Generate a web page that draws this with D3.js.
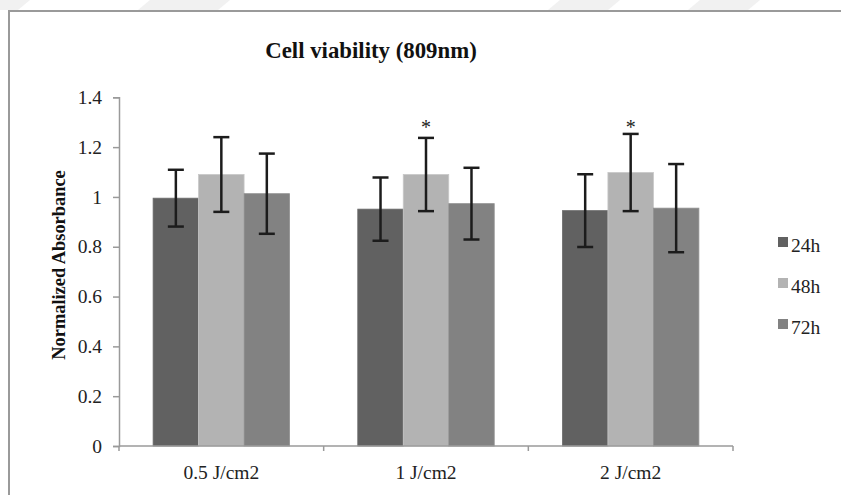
<!DOCTYPE html>
<html>
<head>
<meta charset="utf-8">
<script src="https://cdn.jsdelivr.net/npm/d3@7.9.0/dist/d3.min.js"></script>
<style>
  body { margin: 0; background: #fff; }
  svg { display: block; font-family: "Liberation Serif", "Times New Roman", serif; }
</style>
</head>
<body>
<svg id="chart" width="841" height="495"></svg>
<script>
const categories = ['0.5 J/cm2', '1 J/cm2', '2 J/cm2'];
const series = ['24h', '48h', '72h'];
const colors = ['#616161', '#b3b3b3', '#828282'];
// mean values per series, one entry per category
const values = {
  '24h': [0.995, 0.951, 0.945],
  '48h': [1.090, 1.090, 1.098],
  '72h': [1.013, 0.973, 0.955]
};
// error (+/-) per series
const errors = {
  '24h': [0.114, 0.127, 0.146],
  '48h': [0.150, 0.147, 0.155],
  '72h': [0.161, 0.144, 0.177]
};
const yTicks = [0, 0.2, 0.4, 0.6, 0.8, 1, 1.2, 1.4];
// significance markers: [category index, series]
const stars = [[1, '48h'], [2, '48h']];

const svg = d3.select('#chart');

// faint watermark stripes on top
const stripes = [[-20, 30], [150, 230], [560, 620], [700, 760]];
stripes.forEach(([a, b]) => {
  svg.append('polygon')
    .attr('points', `${a},0 ${b},0 ${b - 12},10 ${a - 12},10`)
    .attr('fill', '#f1f1f1');
});

// frame
svg.append('path')
  .attr('d', 'M9,495 V11 H841')
  .attr('fill', 'none')
  .attr('stroke', '#9a9a9a')
  .attr('stroke-width', 2);

const x0 = 119, x1 = 733, yTop = 97.3, yBottom = 446;

const x = d3.scaleBand().domain(categories).range([x0, x1]).padding(0);
const xSub = d3.scaleBand().domain(series).range([0, x.bandwidth()])
  .paddingInner(0).paddingOuter(0.75);
const y = d3.scaleLinear().domain([0, 1.4]).range([yBottom, yTop]);

// bars
series.forEach((s, si) => {
  svg.append('g').selectAll('rect')
    .data(categories)
    .join('rect')
    .attr('x', (c) => x(c) + xSub(s))
    .attr('y', (c, i) => y(values[s][i]))
    .attr('width', xSub.bandwidth())
    .attr('height', (c, i) => yBottom - y(values[s][i]))
    .attr('fill', colors[si])
    .attr('stroke', d3.color(colors[si]).brighter(0.3))
    .attr('stroke-width', 0.8);
});

// error bars
const capW = 16;
series.forEach((s) => {
  categories.forEach((c, i) => {
    const cx = x(c) + xSub(s) + xSub.bandwidth() / 2;
    const hi = y(values[s][i] + errors[s][i]);
    const lo = y(values[s][i] - errors[s][i]);
    const g = svg.append('g').attr('stroke', '#1c1c1c').attr('stroke-width', 2.5);
    g.append('line').attr('x1', cx).attr('x2', cx).attr('y1', hi).attr('y2', lo);
    g.append('line').attr('x1', cx - capW / 2).attr('x2', cx + capW / 2).attr('y1', hi).attr('y2', hi);
    g.append('line').attr('x1', cx - capW / 2).attr('x2', cx + capW / 2).attr('y1', lo).attr('y2', lo);
  });
});

// significance stars
stars.forEach(([ci, s]) => {
  const c = categories[ci];
  svg.append('text')
    .attr('x', x(c) + xSub(s) + xSub.bandwidth() / 2)
    .attr('y', y(1.289) + 9.5)
    .attr('text-anchor', 'middle')
    .attr('font-size', 20)
    .attr('fill', '#222')
    .text('*');
});

// y axis
const yAxis = svg.append('g')
  .attr('transform', `translate(${x0},0)`)
  .call(d3.axisLeft(y).tickValues(yTicks).tickSize(6).tickPadding(11)
    .tickFormat((d) => String(+d.toFixed(1))));
yAxis.select('.domain').attr('stroke', '#9a9a9a').attr('stroke-width', 1.5);
yAxis.selectAll('.tick line').attr('stroke', '#9a9a9a').attr('stroke-width', 1.5);
yAxis.selectAll('.tick text')
  .attr('font-size', 19.5)
  .attr('font-family', '"Liberation Serif", serif')
  .attr('fill', '#222');

// x axis
svg.append('line')
  .attr('x1', x0).attr('x2', x1).attr('y1', yBottom).attr('y2', yBottom)
  .attr('stroke', '#9a9a9a').attr('stroke-width', 1.5);
const bounds = categories.map((c) => x(c)).concat([x(categories[categories.length - 1]) + x.bandwidth()]);
svg.append('g').selectAll('line')
  .data(bounds)
  .join('line')
  .attr('x1', (d) => d).attr('x2', (d) => d)
  .attr('y1', yBottom).attr('y2', yBottom + 5)
  .attr('stroke', '#9a9a9a').attr('stroke-width', 1.5);
svg.append('g').selectAll('text')
  .data(categories)
  .join('text')
  .attr('x', (c) => x(c) + x.bandwidth() / 2)
  .attr('y', 479)
  .attr('text-anchor', 'middle')
  .attr('font-size', 19.5)
  .attr('fill', '#222')
  .text((c) => c);

// y axis title
svg.append('text')
  .attr('transform', 'translate(65,265) rotate(-90)')
  .attr('text-anchor', 'middle')
  .attr('font-size', 18.4)
  .attr('font-weight', 'bold')
  .attr('fill', '#111')
  .text('Normalized Absorbance');

// title
svg.append('text')
  .attr('x', 371)
  .attr('y', 58)
  .attr('text-anchor', 'middle')
  .attr('font-size', 22.8)
  .attr('font-weight', 'bold')
  .attr('fill', '#111')
  .text('Cell viability (809nm)');

// legend
const legend = svg.append('g').attr('transform', 'translate(778,237)');
series.forEach((s, i) => {
  const row = legend.append('g').attr('transform', `translate(0,${i * 41})`);
  row.append('rect').attr('width', 10).attr('height', 10).attr('fill', colors[i]);
  row.append('text')
    .attr('x', 13).attr('y', 14.5)
    .attr('font-size', 19.5)
    .attr('fill', '#222')
    .text(s);
});
</script>
</body>
</html>
